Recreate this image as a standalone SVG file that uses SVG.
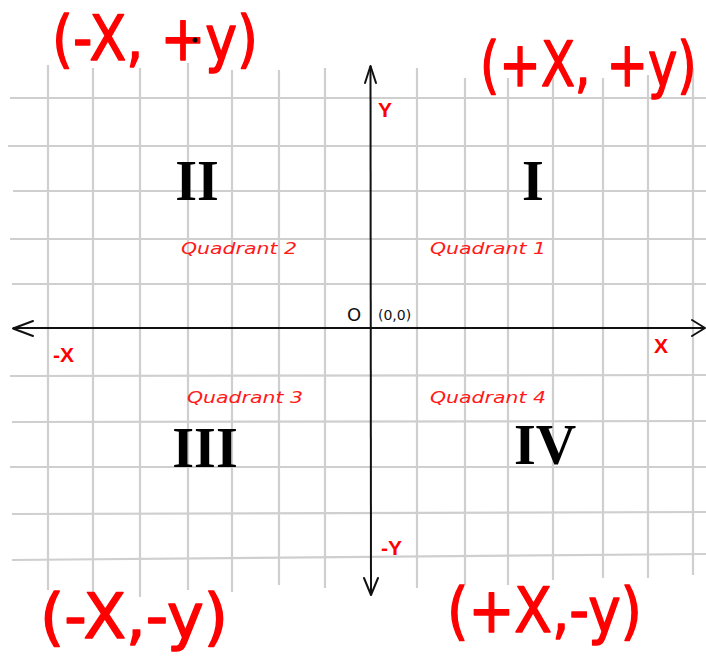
<svg xmlns="http://www.w3.org/2000/svg" width="706" height="660" viewBox="0 0 706 660">
<defs>
<style>
.g{stroke:#cfcfcf;stroke-width:2.2;fill:none}
.ax{stroke:#111;stroke-width:2;fill:none}
.ah{stroke:#111;stroke-width:2;fill:none;stroke-linecap:round;stroke-linejoin:round}
.lbl{font-family:"Liberation Sans",Arial,sans-serif;font-weight:bold;fill:#ff0000;font-size:21px}
.rom{font-family:"Liberation Serif","Times New Roman",serif;font-weight:bold;fill:#000;font-size:56px;text-anchor:middle}
.q{font-family:"DejaVu Sans","Noto Sans",sans-serif;font-style:italic;fill:#ff1a1a;font-size:15px}
.hw{font-family:"DejaVu Sans","Noto Sans",sans-serif;fill:#ff0000;stroke:#ff0000;stroke-width:1.5;stroke-linejoin:round;stroke-linecap:round;font-size:62px}
.o{font-family:"DejaVu Sans","Noto Sans",sans-serif;fill:#111}
</style>
</defs>
<rect width="706" height="660" fill="#fff"/>
<g id="grid">
<line class="g" x1="10" y1="98" x2="706" y2="98"/>
<line class="g" x1="8" y1="146" x2="706" y2="146"/>
<line class="g" x1="13" y1="191" x2="706" y2="191"/>
<line class="g" x1="10" y1="239" x2="706" y2="239"/>
<line class="g" x1="12" y1="284" x2="706" y2="284"/>
<line class="g" x1="10" y1="376" x2="706" y2="375"/>
<line class="g" x1="12" y1="422" x2="706" y2="421"/>
<line class="g" x1="10" y1="467" x2="706" y2="467"/>
<line class="g" x1="12" y1="514" x2="706" y2="512"/>
<line class="g" x1="12" y1="560" x2="706" y2="554"/>
<line class="g" x1="48" y1="65" x2="48" y2="590"/>
<line class="g" x1="93" y1="68" x2="93" y2="595"/>
<line class="g" x1="140" y1="68" x2="140" y2="597"/>
<line class="g" x1="188" y1="63" x2="188" y2="590"/>
<line class="g" x1="232" y1="70" x2="232" y2="592"/>
<line class="g" x1="279" y1="70" x2="279" y2="585"/>
<line class="g" x1="325" y1="68" x2="325" y2="588"/>
<line class="g" x1="417" y1="68" x2="417" y2="588"/>
<line class="g" x1="465" y1="78" x2="465" y2="585"/>
<line class="g" x1="508" y1="78" x2="508" y2="585"/>
<line class="g" x1="553" y1="78" x2="553" y2="580"/>
<line class="g" x1="603" y1="78" x2="603" y2="578"/>
<line class="g" x1="648" y1="75" x2="648" y2="578"/>
<line class="g" x1="693" y1="68" x2="693" y2="575"/>
</g>
<g id="connectors">
<line class="ax" x1="13" y1="328" x2="705" y2="328"/>
<polyline class="ah" points="33,321 13,328.5 33,336"/>
<polyline class="ah" points="692,320 705,328 692,336"/>
<line class="ax" x1="370.5" y1="66" x2="371" y2="595"/>
<polyline class="ah" points="365,83 370.5,66 376,83"/>
<polyline class="ah" points="364,578 371,595 378,578"/>
</g>
<g id="axis-labels">
<text class="lbl" x="378" y="117">Y</text>
<text class="lbl" x="53" y="362">-X</text>
<text class="lbl" x="654" y="353">X</text>
<text class="lbl" x="381" y="555">-Y</text>
<text class="o" x="347" y="321" font-size="18">O</text>
<text class="o" x="378" y="320" font-size="14">(0,0)</text>
</g>
<g id="quadrant-1">
<text class="rom" x="533" y="200">I</text>
<text class="q" x="430" y="254" textLength="116" lengthAdjust="spacingAndGlyphs">Quadrant 1</text>
<text class="hw" transform="translate(480,86) scale(0.8,1)">(+X, +y)</text>
</g>
<g id="quadrant-2">
<text class="rom" x="197" y="200">II</text>
<text class="q" x="181" y="254" textLength="116" lengthAdjust="spacingAndGlyphs">Quadrant 2</text>
<text class="hw" x="52" y="60" textLength="206" lengthAdjust="spacingAndGlyphs">(-X, +y)</text>
<circle cx="195" cy="40" r="2.5" fill="#000"/>
</g>
<g id="quadrant-3">
<text class="rom" x="205" y="467">III</text>
<text class="q" x="187" y="403" textLength="116" lengthAdjust="spacingAndGlyphs">Quadrant 3</text>
<text class="hw" x="40" y="638" textLength="188" lengthAdjust="spacingAndGlyphs">(-X,-y)</text>
</g>
<g id="quadrant-4">
<text class="rom" x="545" y="464">IV</text>
<text class="q" x="430" y="403" textLength="116" lengthAdjust="spacingAndGlyphs">Quadrant 4</text>
<text class="hw" x="447" y="632" textLength="195" lengthAdjust="spacingAndGlyphs">(+X,-y)</text>
</g>
</svg>
